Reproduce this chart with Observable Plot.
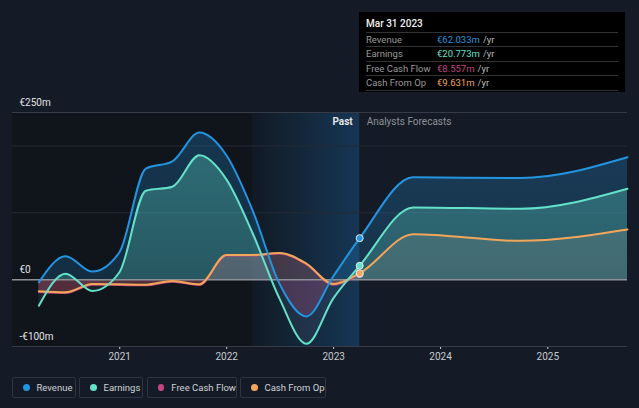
<!DOCTYPE html>
<html><head><meta charset="utf-8">
<script src="https://cdn.jsdelivr.net/npm/d3@7"></script>
<script src="https://cdn.jsdelivr.net/npm/@observablehq/plot@0.6"></script>
<style>
html,body{margin:0;padding:0;background:#151b26;}
#wrap{position:relative;width:639px;height:408px;overflow:hidden;font-family:Roboto,"Noto Sans",sans-serif;}
#chart{position:absolute;left:0;top:0;}
#tip{position:absolute;left:359px;top:12px;width:266px;height:80px;background:#000;box-sizing:border-box;padding:0 7px;}
#tip .t{color:#f0f0f0;font-size:10px;font-weight:500;height:20px;line-height:23px;border-bottom:1px solid #333;}
#tip .r{height:13.4px;line-height:13.4px;font-size:9.5px;border-bottom:1px solid #333;color:#9a9a9a;display:flex;}
#tip .r .l{width:71px;}
#tip .r .u{color:#bbb;margin-left:3px;}
#legend{position:absolute;left:12px;top:377px;}
#legend .b{position:absolute;top:0;height:21px;border:1px solid #2e3542;border-radius:2px;box-sizing:border-box;display:flex;align-items:center;padding:0 0 0 9.5px;font-size:9.5px;color:#cfd2d6;white-space:nowrap;}
#legend .d{width:7px;height:7px;border-radius:50%;margin-right:7px;}
</style></head><body>
<div id="wrap"><div id="chart"></div><div id="tip"></div><div id="legend"></div></div>
<script>
// ---- data ----
const dates = ["2020-03-31","2020-06-30","2020-09-30","2020-12-31","2021-03-31","2021-06-30","2021-09-30","2021-12-31","2022-03-31","2022-06-30","2022-09-30","2022-12-31","2023-03-31"];
const revenue  = [-4, 35, 12, 41, 166, 177, 220, 186, 103, -6, -55, 5, 62.033];
const earnings = [-39, 9, -17, 11, 133, 139, 186, 150, 69, -28, -96, -28, 20.773];
const freeCashFlow = [-18.5, -20, -7.5, -8, -8.5, -3, -8, 36, 36, 39, 23, -7.5, 8.557];
const cashFromOp   = [-17.5, -19, -6.5, -7, -7.5, -2, -7, 37, 37, 40, 24, -6.5, 9.631];
const forecastDates = ["2023-09-30","2024-09-30","2025-09-30"];
const revenueF  = [153, 152, 183];
const earningsF = [108, 106, 136];
const cashFromOpF = [68, 58, 75];
const seriesNames = ["Revenue","Earnings","Free Cash Flow","Cash From Op"];
const colors = ["#2394df","#64e1c9","#c2457f","#f2a65a"];
const yLabelVals = [250, 0, -100];
const yLabels = ["€250m","€0","-€100m"];
const gridVals = [250, 200, 100, -100];
const xTickYears = [2021, 2022, 2023, 2024, 2025];
const tipDate = "Mar 31 2023";
const tipValues = ["€62.033m","€20.773m","€8.557m","€9.631m"];
const pastLabel = "Past", forecastLabel = "Analysts Forecasts";
const pastStart = "2022-03-31", pastEnd = "2023-03-31";

(function () {
const parse = s => new Date(s + "T00:00:00Z");
function build(name, past, fut) {
  const rows = dates.map((d, i) => ({series: name, date: parse(d), value: past[i]}));
  if (fut) fut.forEach((v, i) => rows.push({series: name, date: parse(forecastDates[i]), value: v}));
  return rows;
}
const rev = build("Revenue", revenue, revenueF);
const earn = build("Earnings", earnings, earningsF);
const fcf = build("Free Cash Flow", freeCashFlow, null);
const cfo = build("Cash From Op", cashFromOp, cashFromOpF);
const lastPoints = [rev, earn, fcf, cfo].map(s => s[dates.length - 1]);

const xDomain = [parse("2020-01-01"), parse("2025-09-30")];
const curve = "monotone-x";

const plot = Plot.plot({
  width: 639, height: 365,
  marginLeft: 12, marginRight: 12, marginTop: 112, marginBottom: 19,
  style: {background: "transparent", color: "#c8cbd0", fontSize: "10px", fontFamily: "Roboto, 'Noto Sans', sans-serif"},
  x: {type: "utc", domain: xDomain, ticks: xTickYears.map(y => parse(y + "-01-01")), tickFormat: d3.utcFormat("%Y"), tickSize: 3, tickPadding: 3, label: null},
  y: {domain: [-100, 250], axis: null},
  marks: [
    Plot.rect([{a: xDomain[0], b: parse(pastStart)}], {x1: "a", x2: "b", y1: -100, y2: 250, fill: "#10141b"}),
    Plot.rect([{a: parse(pastStart), b: parse(pastEnd)}], {x1: "a", x2: "b", y1: -100, y2: 250, fill: "url(#pastGrad)"}),
    Plot.ruleY(gridVals, {stroke: d => d === 250 || d === -100 ? "#363c47" : "#252b35", strokeWidth: 1}),
    Plot.areaY(rev, {x: "date", y1: 0, y2: "value", curve, fill: "url(#gRev)"}),
    Plot.areaY(earn, {x: "date", y1: 0, y2: "value", curve, fill: "url(#gEarn)"}),
    Plot.areaY(fcf, {x: "date", y1: 0, y2: "value", curve, fill: "url(#gFcf)"}),
    Plot.areaY(cfo, {x: "date", y1: 0, y2: "value", curve, fill: "url(#gCfo)"}),
    Plot.ruleY([0], {stroke: "#8d9096", strokeWidth: 1.5}),
    Plot.lineY(fcf, {x: "date", y: "value", curve, stroke: colors[2], strokeWidth: 2}),
    Plot.lineY(cfo, {x: "date", y: "value", curve, stroke: colors[3], strokeWidth: 2}),
    Plot.lineY(earn, {x: "date", y: "value", curve, stroke: colors[1], strokeWidth: 2}),
    Plot.lineY(rev, {x: "date", y: "value", curve, stroke: colors[0], strokeWidth: 2}),
    Plot.dot(lastPoints, {x: "date", y: "value", r: 3.5, fill: (d) => colors[seriesNames.indexOf(d.series)], stroke: "#e6e6e6", strokeWidth: 1}),
    Plot.text(yLabelVals, {y: d => d, text: (d, i) => yLabels[i], frameAnchor: "left", textAnchor: "start", dx: 7, dy: -10, fill: "#e0e2e5", fontSize: 10}),
    Plot.text([pastLabel], {x: parse(pastEnd), y: 250, text: d => d, textAnchor: "end", dx: -7, dy: 9, fill: "#e4e4e4", fontWeight: "bold", fontSize: 10}),
    Plot.text([forecastLabel], {x: parse(pastEnd), y: 250, text: d => d, textAnchor: "start", dx: 7, dy: 9, fill: "#8c9097", fontSize: 10})
  ]
});

// gradients
const ys = plot.scale("y");
const yTop = ys.apply(250), yBot = ys.apply(-100), yZero = ys.apply(0);
const off = (yZero - yTop) / (yBot - yTop);
const ns = "http://www.w3.org/2000/svg";
const defs = document.createElementNS(ns, "defs");
function vgrad(id, posColor, posOp, negColor, negOp) {
  const g = document.createElementNS(ns, "linearGradient");
  g.setAttribute("id", id);
  g.setAttribute("gradientUnits", "userSpaceOnUse");
  g.setAttribute("x1", 0); g.setAttribute("x2", 0);
  g.setAttribute("y1", yTop); g.setAttribute("y2", yBot);
  [[0, posColor, posOp], [off, posColor, posOp * 0.7], [off, negColor, negOp], [1, negColor, negOp]].forEach(([o, c, a]) => {
    const s = document.createElementNS(ns, "stop");
    s.setAttribute("offset", o); s.setAttribute("stop-color", c); s.setAttribute("stop-opacity", a);
    g.appendChild(s);
  });
  defs.appendChild(g);
}
vgrad("gRev", colors[0], 0.28, "#c2457f", 0.26);
vgrad("gEarn", colors[1], 0.34, "#a0a4d0", 0.09);
vgrad("gFcf", colors[2], 0.2, "#c2457f", 0.3);
vgrad("gCfo", "#d8b8a0", 0.18, colors[3], 0.08);
const pg = document.createElementNS(ns, "linearGradient");
pg.setAttribute("id", "pastGrad");
[[0, "#111a24"], [1, "#163654"]].forEach(([o, c]) => {
  const s = document.createElementNS(ns, "stop");
  s.setAttribute("offset", o); s.setAttribute("stop-color", c);
  pg.appendChild(s);
});
defs.appendChild(pg);
plot.insertBefore(defs, plot.firstChild);
document.getElementById("chart").appendChild(plot);

// tooltip
const tip = document.getElementById("tip");
let html = `<div class="t">${tipDate}</div>`;
seriesNames.forEach((n, i) => {
  html += `<div class="r"><span class="l">${n}</span><span style="color:${colors[i]}">${tipValues[i]}</span><span class="u">/yr</span></div>`;
});
tip.innerHTML = html;

// legend
const leg = document.getElementById("legend");
const boxLeft = [0, 67, 135, 228], boxWidth = [64, 64, 90, 86];
seriesNames.forEach((n, i) => {
  const b = document.createElement("div");
  b.className = "b";
  b.style.left = boxLeft[i] + "px";
  b.style.width = boxWidth[i] + "px";
  b.innerHTML = `<span class="d" style="background:${colors[i]}"></span>${n}`;
  leg.appendChild(b);
});
})();
</script>
</body></html>
